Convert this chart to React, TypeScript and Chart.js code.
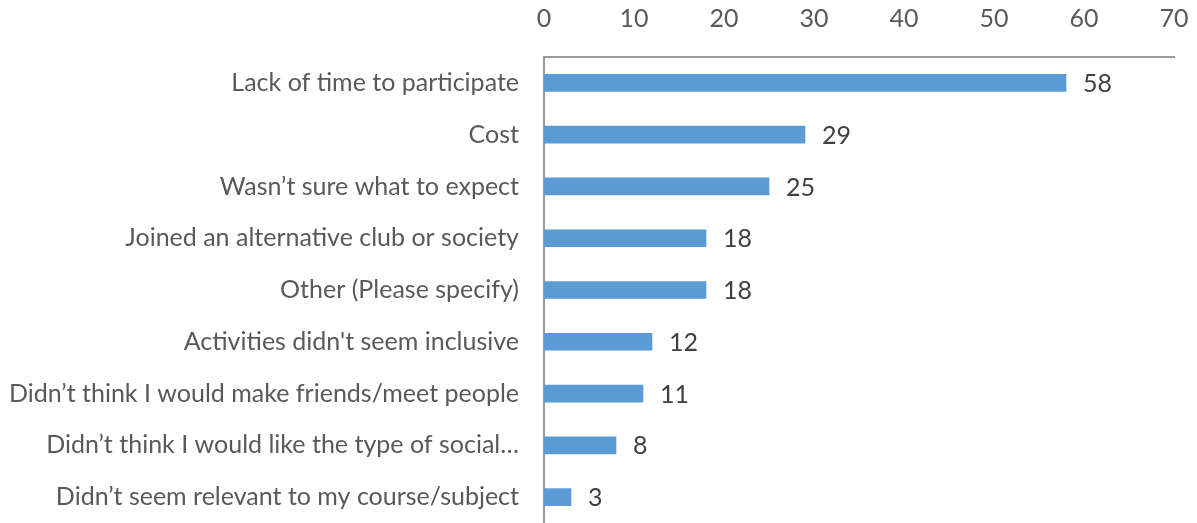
import React, { useEffect, useRef } from "react";
import { Chart, registerables } from "chart.js";

Chart.register(...registerables);

const categories: string[] = [
  "Lack of time to participate",
  "Cost",
  "Wasn’t sure what to expect",
  "Joined an alternative club or society",
  "Other (Please specify)",
  "Activities didn't seem inclusive",
  "Didn’t think I would make friends/meet people",
  "Didn’t think I would like the type of social…",
  "Didn’t seem relevant to my course/subject",
];
const values: number[] = [58, 29, 25, 18, 18, 12, 11, 8, 3];
const xTicks: number[] = [0, 10, 20, 30, 40, 50, 60, 70];

const FONT = "Lato, 'Open Sans', sans-serif";
const FSIZE = 25;

export default function App() {
  const ref = useRef<HTMLCanvasElement | null>(null);
  useEffect(() => {
    document.body.style.margin = "0";
    const labelPlugin = {
      id: "valueLabels",
      afterDatasetsDraw(chart: any) {
        const ctx = chart.ctx;
        const meta = chart.getDatasetMeta(0);
        ctx.save();
        ctx.fillStyle = "#404040";
        ctx.font = `${FSIZE}px ${FONT}`;
        ctx.textAlign = "left";
        ctx.textBaseline = "middle";
        meta.data.forEach((bar: any, i: number) => {
          ctx.fillText(String(values[i]), bar.x + 17, bar.y + 1);
        });
        ctx.restore();
      },
    };
    const chart = new Chart(ref.current as HTMLCanvasElement, {
      type: "bar",
      data: {
        labels: categories,
        datasets: [
          {
            data: values,
            backgroundColor: "#5B9BD5",
            barThickness: 17,
          },
        ],
      },
      plugins: [labelPlugin],
      options: {
        indexAxis: "y",
        animation: false,
        responsive: true,
        maintainAspectRatio: false,
        layout: { autoPadding: false, padding: { top: 0, right: 23, bottom: -7, left: 0 } },
        plugins: { legend: { display: false }, tooltip: { enabled: false } },
        scales: {
          x: {
            position: "top",
            min: 0,
            max: 70,
            afterBuildTicks(scale: any) {
              scale.ticks = xTicks.map((v) => ({ value: v }));
            },
            afterFit(scale: any) {
              scale.height = 57;
              scale.paddingLeft = 0;
              scale.paddingRight = 0;
              scale.paddingTop = 0;
              scale.paddingBottom = 0;
            },
            grid: { display: false, drawTicks: false },
            border: { display: true, color: "#9a9a9a", width: 2 },
            ticks: {
              color: "#595959",
              font: { family: FONT, size: FSIZE },
              padding: 23,
            },
          },
          y: {
            afterFit(scale: any) {
              scale.width = 544;
              scale.paddingLeft = 0;
              scale.paddingRight = 0;
              scale.paddingTop = 0;
              scale.paddingBottom = 0;
            },
            grid: { display: false, drawTicks: false },
            border: { display: true, color: "#9a9a9a", width: 2 },
            ticks: {
              color: "#595959",
              font: { family: FONT, size: FSIZE },
              padding: 25,
              autoSkip: false,
            },
          },
        },
      },
    });
    return () => chart.destroy();
  }, []);
  return (
    <div style={{ width: 1197, height: 523, position: "relative" }}>
      <canvas ref={ref} />
    </div>
  );
}
